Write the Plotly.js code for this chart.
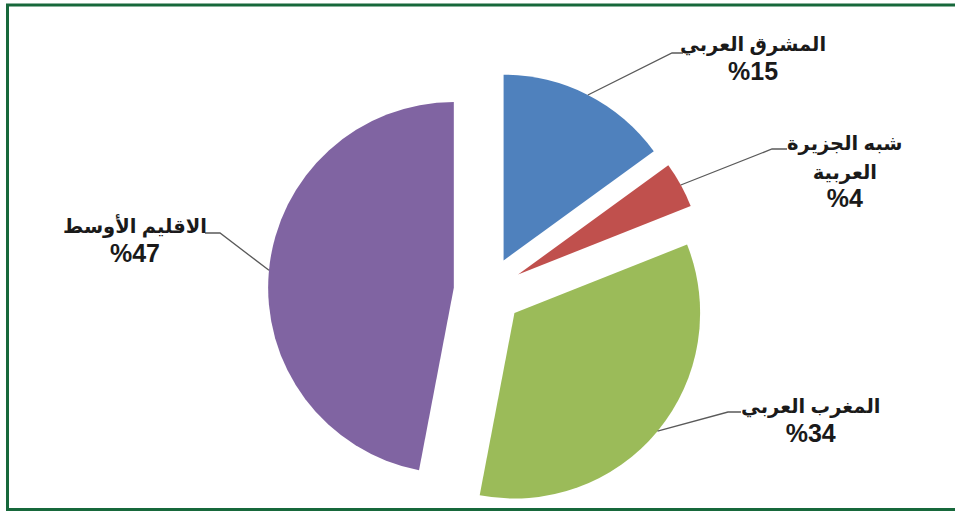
<!DOCTYPE html>
<html>
<head>
<meta charset="utf-8">
<script src="https://cdn.plot.ly/plotly-3.0.1.min.js"></script>
<style>html,body{margin:0;padding:0;background:#fff;}#chart{width:955px;height:511px;}</style>
</head>
<body>
<div id="chart"></div>
<script>
// ---- data ----
const categories = ['المشرق العربي', 'شبه الجزيرة العربية', 'المغرب العربي', 'الاقليم الأوسط'];
const shares = [15, 4, 34, 47];
const sliceColors = ['#4F81BD', '#C0504D', '#9BBB59', '#8064A2'];

// ---- layout constants (pixels) ----
const W = 955, H = 511;
const center = {x: 488, y: 291};
const outerR = 220;      // radius incl. pull
const pull = 0.185;
// label block centres and leader elbows (pixels)
const labelPos = [
  {x: 753, y: 59, elbow: [672, 53], end: [683, 53]},
  {x: 845, y: 172, elbow: [772, 149], end: [787, 149]},
  {x: 810, y: 421, elbow: [728, 412], end: [741, 412]},
  {x: 135, y: 240, elbow: [220, 233], end: [205, 233]}
];

const px = v => v / W;
const py = v => 1 - v / H;

const labelText = categories.map(c => c === 'شبه الجزيرة العربية' ? 'شبه الجزيرة<br>العربية' : c);
const FONT = 'Liberation Sans, Arial, DejaVu Sans, sans-serif';

const total = shares.reduce((a, b) => a + b, 0);
let cum = 0;
const annotations = [];
const shapes = [];
shares.forEach((v, i) => {
  const mid = (cum + v / 2) / total * 2 * Math.PI;
  cum += v;
  const ax = center.x + outerR * Math.sin(mid);
  const ay = center.y - outerR * Math.cos(mid);
  const L = labelPos[i];
  shapes.push({
    type: 'path', xref: 'paper', yref: 'paper',
    path: `M ${px(ax)} ${py(ay)} L ${px(L.elbow[0])} ${py(L.elbow[1])} L ${px(L.end[0])} ${py(L.end[1])}`,
    line: {color: '#5a5a5a', width: 1.3}
  });
  annotations.push({
    xref: 'paper', yref: 'paper', x: px(L.x), y: py(L.y),
    xanchor: 'center', yanchor: 'middle', showarrow: false, align: 'center',
    text: '<b>' + labelText[i].split('<br>').map(s => '<span style="font-size:19.5px">' + s + '</span>').join('<br>') +
          '<br><span style="font-size:25px">%' + v + '</span></b>',
    font: {family: FONT, size: 22, color: '#1a1a1a'}
  });
});

// frame
shapes.push({
  type: 'rect', xref: 'paper', yref: 'paper',
  x0: px(7.5), x1: px(958), y0: py(509.5), y1: py(5),
  line: {color: '#17683b', width: 3}, fillcolor: 'rgba(0,0,0,0)'
});

const trace = {
  type: 'pie',
  labels: categories,
  values: shares,
  sort: false,
  direction: 'clockwise',
  rotation: 0,
  pull: pull,
  textinfo: 'none',
  hoverinfo: 'label+percent',
  marker: {colors: sliceColors, line: {width: 0}},
  showlegend: false,
  domain: {
    x: [px(center.x - outerR), px(center.x + outerR)],
    y: [Math.max(0, py(center.y + outerR)), py(center.y - outerR)]
  }
};

Plotly.newPlot('chart', [trace], {
  width: W, height: H,
  margin: {l: 0, r: 0, t: 0, b: 0},
  paper_bgcolor: '#ffffff',
  showlegend: false,
  annotations: annotations,
  shapes: shapes
}, {displayModeBar: false, staticPlot: true});
</script>
</body>
</html>
